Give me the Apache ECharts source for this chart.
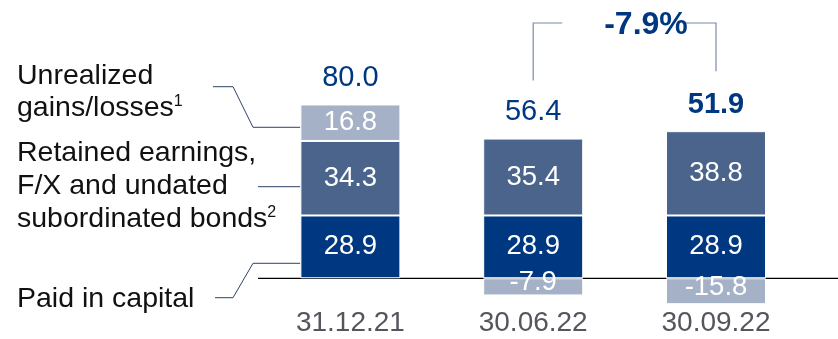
<!DOCTYPE html>
<html><head><meta charset="utf-8">
<script src="https://cdn.jsdelivr.net/npm/echarts@6/dist/echarts.min.js"></script>
<style>html,body{margin:0;padding:0;background:#fff}#c{width:838px;height:339px}</style>
</head><body><div id="c"></div>
<script>
// Equity components (EUR bn) per reporting date
const categories = ['31.12.21', '30.06.22', '30.09.22'];
const paidIn = [28.9, 28.9, 28.9];
const retained = [34.3, 35.4, 38.8];
const unrealized = [16.8, -7.9, -15.8];
const changeLabel = '-7.9%';

const FONT = '"Liberation Sans", Arial, sans-serif';
const C_DARK = '#003781', C_MID = '#4a648c', C_LIGHT = '#a4b1c7';

// Total equity and the height of the positive part of each stack
const totals = categories.map((_, i) => paidIn[i] + retained[i] + unrealized[i]);
const positiveTop = categories.map((_, i) =>
  [paidIn[i], retained[i], unrealized[i]].filter(v => v > 0).reduce((a, b) => a + b, 0));

const chart = echarts.init(document.getElementById('c'));

const innerLabel = {
  show: true, position: 'inside', color: '#fff', fontSize: 27.5, fontFamily: FONT,
  formatter: p => p.value.toFixed(1)
};
const segBorder = { borderColor: '#fff', borderWidth: 1 };

chart.setOption({
  animation: false,
  grid: { left: 259, right: 30.6, top: 61, bottom: 35.3 },
  xAxis: {
    type: 'category', data: categories,
    axisLine: { show: false }, axisTick: { show: false },
    axisLabel: { fontSize: 28, color: '#58535d', fontFamily: FONT, margin: 6 }
  },
  yAxis: { type: 'value', min: -11.7, max: 100, show: false, splitLine: { show: false } },
  series: [
    { name: 'Paid in capital', type: 'bar', stack: 'eq', barWidth: 100, data: paidIn,
      itemStyle: Object.assign({ color: C_DARK }, segBorder), label: innerLabel },
    { name: 'Retained earnings', type: 'bar', stack: 'eq', barWidth: 100, data: retained,
      itemStyle: Object.assign({ color: C_MID }, segBorder), label: innerLabel },
    { name: 'Unrealized gains/losses', type: 'bar', stack: 'eq', barWidth: 100,
      data: unrealized.map(v => v < 0
        ? { value: v, label: { offset: [0, -4] } }
        : { value: v }),
      itemStyle: Object.assign({ color: C_LIGHT }, segBorder), label: innerLabel },
    { name: 'Total', type: 'scatter', symbolSize: 0, itemStyle: { color: C_DARK, opacity: 1 },
      data: positiveTop.map((v, i) => ({
        value: v,
        label: { fontWeight: i === categories.length - 1 ? 'bold' : 'normal' }
      })),
      label: { show: true, position: 'top', distance: 12, fontSize: 29, color: C_DARK,
        fontFamily: FONT, formatter: p => totals[p.dataIndex].toFixed(1) },
      z: 5 }
  ]
});

// Annotations placed relative to the plotted bars
const px = (i, v) => chart.convertToPixel({ gridIndex: 0 }, [i, v]);
const y0 = px(0, 0)[1];
const barLeft = px(0, 0)[0] - 50;
const lineStyle = { stroke: '#2e4168', lineWidth: 1, fill: null };
const bracketStyle = { stroke: '#7a8aa8', lineWidth: 1.2, fill: null };
const leftText = (txt, y) => ({
  type: 'text', left: 17, top: y,
  style: { text: txt, fontSize: 28.5, fontFamily: FONT, fill: '#111',
    rich: { sup: { fontSize: 16, fontFamily: FONT, fill: '#111', verticalAlign: 'top', padding: [0, 0, 12, 0] } } }
});

const b1 = px(1, positiveTop[1]), b2 = px(2, positiveTop[2]);
const bracketTop = 23;

chart.setOption({
  graphic: [
    // baseline
    { type: 'line', shape: { x1: 258, y1: y0, x2: 838, y2: y0 }, style: { stroke: '#000', lineWidth: 1.2 } },
    // left-hand legend text
    leftText('Unrealized', 62),
    leftText('gains/losses{sup|1}', 94),
    leftText('Retained earnings,', 139),
    leftText('F/X and undated', 172),
    leftText('subordinated bonds{sup|2}', 205),
    leftText('Paid in capital', 285),
    // leader lines
    { type: 'polyline', shape: { points: [[213, 86.7], [233, 86.7], [253, 127.3], [barLeft, 127.3]] }, style: lineStyle },
    { type: 'polyline', shape: { points: [[258, 186.7], [barLeft, 186.7]] }, style: lineStyle },
    { type: 'polyline', shape: { points: [[215, 297.7], [233, 297.7], [253, 263.3], [barLeft, 263.3]] }, style: lineStyle },
    // change bracket between the last two dates
    { type: 'polyline', shape: { points: [[b1[0], b1[1] - 58], [b1[0], bracketTop], [b1[0] + 29, bracketTop]] }, style: bracketStyle },
    { type: 'polyline', shape: { points: [[b2[0] - 34, bracketTop], [b2[0], bracketTop], [b2[0], b2[1] - 60]] }, style: bracketStyle },
    { type: 'text', x: 646, y: bracketTop + 2,
      style: { text: changeLabel, fontSize: 32, fontWeight: 'bold', fontFamily: FONT, fill: C_DARK,
        align: 'center', verticalAlign: 'middle' } }
  ]
});
</script>
</body></html>
